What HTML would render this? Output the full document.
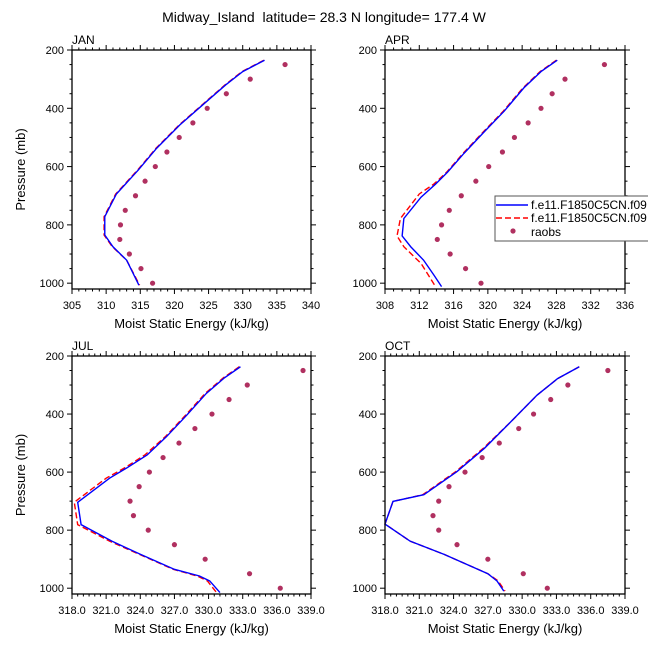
<!DOCTYPE html>
<html><head><meta charset="utf-8"><style>
html,body{margin:0;padding:0;background:#fff;}
svg{display:block;font-family:"Liberation Sans",sans-serif;}
</style></head><body>
<svg id="chart" width="648" height="648" viewBox="0 0 648 648" xmlns="http://www.w3.org/2000/svg">
<text x="324" y="22" text-anchor="middle" font-size="14" xml:space="preserve">Midway_Island&#160; latitude= 28.3 N longitude= 177.4 W</text>
</svg>
<script>
const janBlueX=[333.2,330.0,327.5,324.7,320.8,317.4,314.7,311.5,309.8,309.8,311.0,313.0,314.8];
const janBlueP=[235,274,320,377,457,537,612,694,772,835,875,921,1007];
const janRedX=[333.1,329.9,327.4,324.6,320.7,317.3,314.6,311.4,309.7,309.7,310.9,313.0,314.9];
const janRedP=[235,274,320,377,457,537,612,694,772,835,875,921,1007];
const janObsX=[336.2,331.1,327.6,324.8,322.7,320.7,318.9,317.2,315.7,314.3,312.8,312.1,312.0,313.4,315.1,316.8];
const aprBlueX=[328.1,326.2,324.2,321.9,319.6,317.2,315.3,313.9,312.2,310.2,310.0,311.0,312.5,313.7,314.6];
const aprBlueP=[235,274,330,410,480,555,619,660,705,778,838,875,921,972,1012];
const aprRedX=[328.0,326.1,324.1,321.8,319.5,317.1,315.2,313.7,312.0,309.8,309.4,310.2,312.2,313.9];
const aprRedP=[235,274,330,410,480,555,619,660,694,778,838,875,932,1012];
const aprObsX=[333.6,329.0,327.5,326.2,324.7,323.1,321.7,320.1,318.6,316.9,315.5,314.6,314.1,315.6,317.4,319.2];
const julBlueX=[332.8,331.4,329.8,328.1,326.3,324.6,322.8,321.3,318.5,318.8,321.5,324.0,327.0,329.2,330.1,331.0];
const julBlueP=[237,275,329,403,478,541,586,621,704,781,838,883,935,958,975,1015];
const julRedX=[332.7,331.3,329.7,328.0,326.2,324.4,322.6,321.0,318.2,318.5,321.3,323.9,326.9,329.0,329.9,330.7];
const julRedP=[237,275,329,403,478,541,586,621,704,781,838,883,935,958,975,1015];
const julObsX=[338.3,333.4,331.8,330.3,328.8,327.4,326.0,324.8,323.9,323.1,323.4,324.7,327.0,329.7,333.6,336.3];
const octBlueX=[335.0,333.1,331.3,329.0,326.7,324.3,321.4,318.7,318.0,320.2,323.2,327.0,327.8,328.4];
const octBlueP=[237,278,335,427,518,598,678,701,779,838,884,950,975,1010];
const octRedX=[335.0,333.1,331.3,329.0,326.6,324.2,321.3,318.7,318.0,320.2,323.2,327.0,327.9,328.5];
const octObsX=[337.5,334.0,332.5,331.0,329.7,328.0,326.5,325.0,323.6,322.7,322.2,322.7,324.3,327.0,330.1,332.2];
const obsP=[250,300,350,400,450,500,550,600,650,700,750,800,850,900,950,1000];
const yTicks=[200,400,600,800,1000];
const janXTicks=[305,310,315,320,325,330,335,340];
const aprXTicks=[308,312,316,320,324,328,332,336];
const julXTicks=["318.0","321.0","324.0","327.0","330.0","333.0","336.0","339.0"];

const NS="http://www.w3.org/2000/svg";
const svg=document.getElementById('chart');
function mk(tag,attrs,parent){const e=document.createElementNS(NS,tag);for(const k in attrs)e.setAttribute(k,attrs[k]);(parent||svg).appendChild(e);return e;}

function panel(name,L,R,T,B,xmin,xmax,xticks,minorStep,blueX,blueP,redX,redP,obsX,showYTitle){
  const g=mk('g',{});
  
  
  const sx=v=>L+(v-xmin)/(xmax-xmin)*(R-L);
  const sy=p=>T+(p-200)/(1020-200)*(B-T);
  const cg=mk('g',{},g);
  const red=mk('polyline',{points:redX.map((v,i)=>sx(v)+','+sy(redP[i])).join(' '),fill:'none',stroke:'#ff0000','stroke-width':1.4,'stroke-dasharray':'6,3'},cg);
  
  
  const blue=mk('polyline',{points:blueX.map((v,i)=>sx(v)+','+sy(blueP[i])).join(' '),fill:'none',stroke:'#0000ff','stroke-width':1.4},cg);
  
  
  obsX.forEach((v,i)=>{
    const c=mk('circle',{cx:sx(v),cy:sy(obsP[i]),r:2.6,fill:'#b03060'},cg);
    
    
  });
  const fr=mk('rect',{x:L,y:T,width:R-L,height:B-T,fill:'none',stroke:'#000','stroke-width':1.3},g);
  
  
  for(let p=200;p<=1000;p+=50){
    const major=p%200===0;const len=major?5:2.5;const y=sy(p);
    mk('line',{x1:L,y1:y,x2:L-len,y2:y,stroke:'#000'},g);
    mk('line',{x1:R,y1:y,x2:R+len,y2:y,stroke:'#000'},g);
  }
  yTicks.forEach(p=>{
    const t=mk('text',{x:L-8,y:sy(p)+4,'text-anchor':'end','font-size':11},g);
    t.textContent=p;
    
    
  });
  for(let v=xmin;v<=xmax+1e-6;v+=minorStep){
    const isMajor=xticks.some(t=>Math.abs(+t-v)<1e-6);const len=isMajor?5:2.5;const x=sx(v);
    mk('line',{x1:x,y1:B,x2:x,y2:B+len,stroke:'#000'},g);
    mk('line',{x1:x,y1:T,x2:x,y2:T-len,stroke:'#000'},g);
  }
  xticks.forEach(v=>{
    const t=mk('text',{x:sx(+v),y:B+20,'text-anchor':'middle','font-size':11},g);
    t.textContent=v;
    
    
  });
  const xt=mk('text',{x:(L+R)/2,y:B+39,'text-anchor':'middle','font-size':13},g);
  xt.textContent='Moist Static Energy (kJ/kg)';
  
  
  if(showYTitle){
    const cy=(T+B)/2;
    const yt=mk('text',{x:25,y:cy,'text-anchor':'middle','font-size':13,transform:'rotate(-90 25 '+cy+')'},g);
    yt.textContent='Pressure (mb)';
    
    
  }
  const lab=mk('text',{x:L,y:T-6,'font-size':12},g);
  lab.textContent=name.toUpperCase();
  
  
}
panel('jan',72,311,50,289,305,340,janXTicks,1,janBlueX,janBlueP,janRedX,janRedP,janObsX,true);
panel('apr',385,625,50,289,308,336,aprXTicks,1,aprBlueX,aprBlueP,aprRedX,aprRedP,aprObsX,false);
panel('jul',72,311,356,594,318,339,julXTicks,0.5,julBlueX,julBlueP,julRedX,julRedP,julObsX,true);
panel('oct',385,625,356,594,318,339,julXTicks,0.5,octBlueX,octBlueP,octRedX,octBlueP,octObsX,false);

const lg=mk('g',{});


mk('rect',{x:495,y:196,width:160,height:45,fill:'#fff',stroke:'#555','stroke-width':1},lg);
const e1=mk('line',{x1:496,y1:205,x2:528,y2:205,stroke:'#0000ff','stroke-width':1.4},lg);


const t1=mk('text',{x:531,y:209,'font-size':12},lg);t1.textContent='f.e11.F1850C5CN.f09';


const e2=mk('line',{x1:496,y1:218,x2:528,y2:218,stroke:'#ff0000','stroke-width':1.4,'stroke-dasharray':'6,3'},lg);


const t2=mk('text',{x:531,y:222,'font-size':12},lg);t2.textContent='f.e11.F1850C5CN.f09';


const e3=mk('circle',{cx:513,cy:231,r:2.6,fill:'#b03060'},lg);


const t3=mk('text',{x:531,y:236,'font-size':12},lg);t3.textContent='raobs';


</script>
</body></html>
